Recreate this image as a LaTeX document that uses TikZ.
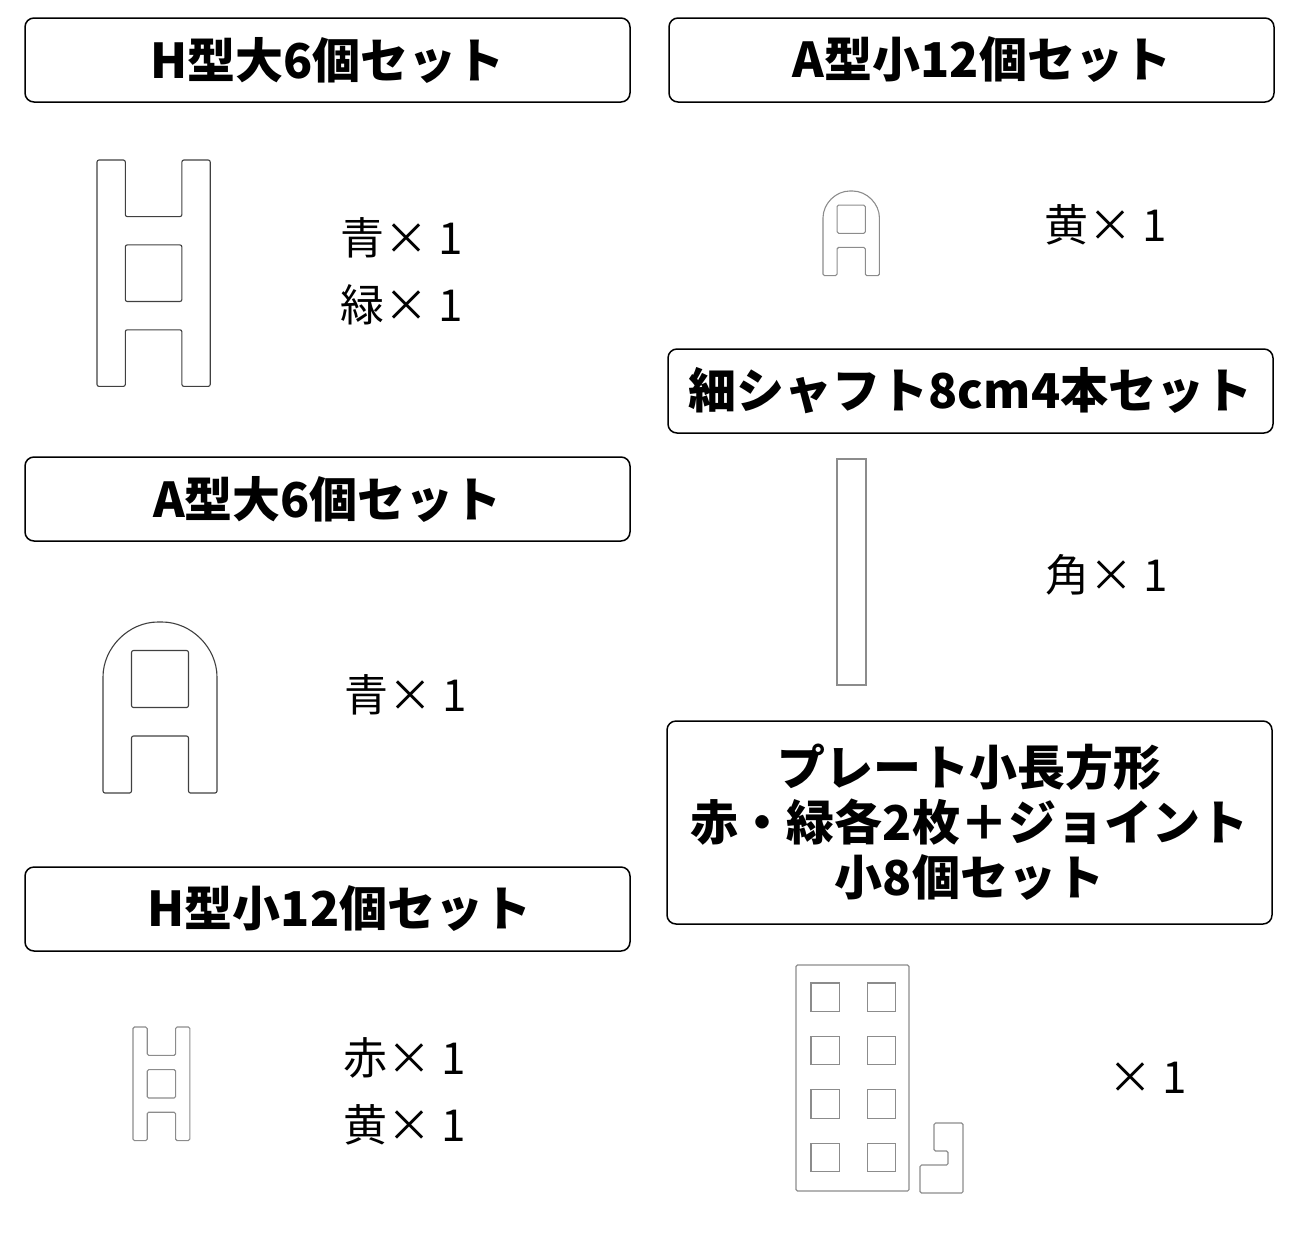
\documentclass[tikz,border=0pt]{standalone}
\usepackage{fontspec}
\setmainfont{Noto Sans CJK JP}

\begin{document}
\begin{tikzpicture}
[x=1pt,y=-1pt,
every node/.style={inner sep=0pt},
title/.style={shape=rectangle,rounded corners=9pt,draw,line width=1.5pt,minimum width=605pt,minimum height=84pt,align=center,font=\fontsize{48}{55}\selectfont\bfseries},
count/.style={align=left,font=\fontsize{44}{67}\selectfont},
bigpart/.style={draw=black!75,line width=1.1pt,rounded corners=2pt},
smallpart/.style={draw=black!45,line width=1.1pt,rounded corners=1.5pt}]

\useasboundingbox (0,0) rectangle (1300,1250);

% set titles
\node[title] (hbig) at (327.5,60) {H型大6個セット};
\node[title] (asmall) at (971.5,60) {\hspace*{21pt}A型小12個セット};
\node[title] (shaft) at (970.5,391) {細シャフト8cm4本セット};
\node[title] (abig) at (327.5,499) {A型大6個セット};
\node[title] (hsmall) at (327.5,909) {\hspace*{24pt}H型小12個セット};
\node[title,minimum height=203pt] (plate) at (969.5,822.5) {プレート小長方形\\赤・緑各2枚＋ジョイント\\小8個セット};

% counts
\node[count] (hbigcnt) at (402,271) {青× 1\\緑× 1};
\node[count] (abigcnt) at (406,695) {青× 1};
\node[count] (hsmallcnt) at (405,1091) {赤× 1\\黄× 1};
\node[count] (asmallcnt) at (1106,225) {黄× 1};
\node[count] (shaftcnt) at (1107,575) {角× 1};
\node[count] (platecnt) at (1148,1078) {× 1};

% H parts
\begin{scope}[shift={(97,160)},scale=28.3]
\draw[bigpart] (0,0) -- (1,0) -- (1,2) -- (3,2) -- (3,0) -- (4,0) -- (4,8) -- (3,8) -- (3,6) -- (1,6) -- (1,8) -- (0,8) -- cycle;
\draw[bigpart] (1,3) rectangle (3,5);
\end{scope}
\begin{scope}[shift={(133,1027)},scale=14.2]
\draw[smallpart] (0,0) -- (1,0) -- (1,2) -- (3,2) -- (3,0) -- (4,0) -- (4,8) -- (3,8) -- (3,6) -- (1,6) -- (1,8) -- (0,8) -- cycle;
\draw[smallpart] (1,3) rectangle (3,5);
\end{scope}

% A parts
\begin{scope}[shift={(103,622)},scale=28.5]
\draw[bigpart] (0,6) -- (0,2) .. controls (0,0.9) and (0.9,0) .. (2,0) .. controls (3.1,0) and (4,0.9) .. (4,2) -- (4,6) -- (3,6) -- (3,4) -- (1,4) -- (1,6) -- cycle;
\draw[bigpart] (1,1) rectangle (3,3);
\end{scope}
\begin{scope}[shift={(823,191)},scale=14.1]
\draw[smallpart] (0,6) -- (0,2) .. controls (0,0.9) and (0.9,0) .. (2,0) .. controls (3.1,0) and (4,0.9) .. (4,2) -- (4,6) -- (3,6) -- (3,4) -- (1,4) -- (1,6) -- cycle;
\draw[smallpart] (1,1) rectangle (3,3);
\end{scope}

% shaft
\draw[smallpart,rounded corners=0pt] (837,459) rectangle (866,685);

% plate and joint
\draw[smallpart] (796,965) rectangle (909,1191);
\foreach \y in {983,1036.4,1089.8,1143.2}
{
\draw[smallpart,rounded corners=0pt] (811,\y) rectangle ++(28.3,28.3);
\draw[smallpart,rounded corners=0pt] (867.5,\y) rectangle ++(28.3,28.3);
}
\draw[smallpart] (934,1123) -- (963,1123) -- (963,1193) -- (920,1193) -- (920,1165) -- (948,1165) -- (948,1151) -- (934,1151) -- cycle;
\end{tikzpicture}
\end{document}
